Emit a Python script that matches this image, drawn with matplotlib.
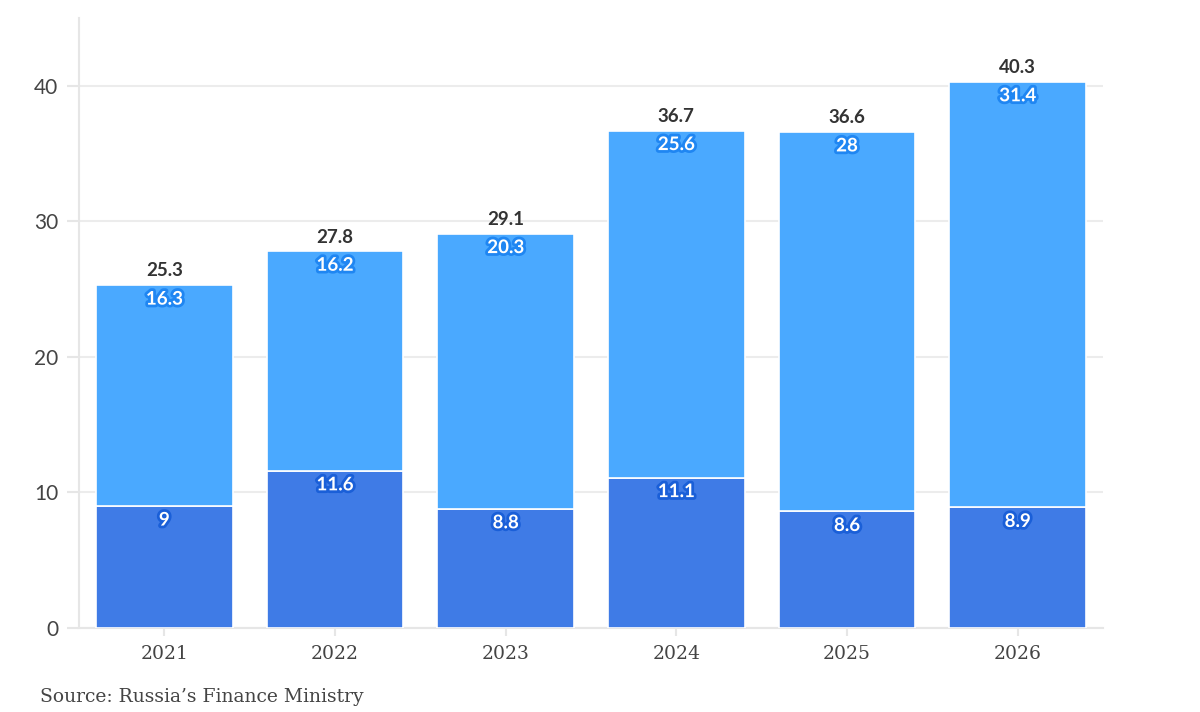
import matplotlib
matplotlib.use("Agg")
import matplotlib.pyplot as plt
import matplotlib.patheffects as pe
import numpy as np

years = ["2021", "2022", "2023", "2024", "2025", "2026"]
bottom_vals = [9, 11.6, 8.8, 11.1, 8.6, 8.9]
top_vals = [16.3, 16.2, 20.3, 25.6, 28, 31.4]
totals = [25.3, 27.8, 29.1, 36.7, 36.6, 40.3]

dark_blue = "#3f7be6"
light_blue = "#4aa9ff"

fig = plt.figure(figsize=(12, 7.12), dpi=100)
ax = fig.add_axes([79 / 1200, 84 / 712, 1024 / 1200, 610 / 712])

x = np.arange(len(years))
ax.bar(x, bottom_vals, width=0.8, color=dark_blue, edgecolor="white", linewidth=1.2, zorder=3)
ax.bar(x, top_vals, width=0.8, bottom=bottom_vals, color=light_blue, edgecolor="white",
       linewidth=1.2, zorder=3)

# white labels with a blue glow inside the bars
outline = [pe.withStroke(linewidth=4, foreground="#1a5fd8")]
outline_top = [pe.withStroke(linewidth=4, foreground="#1f86f2")]
for i in range(len(years)):
    ax.annotate(f"{bottom_vals[i]:g}", (x[i], bottom_vals[i]), xytext=(0, -4),
                textcoords="offset points", ha="center", va="top", color="white",
                fontsize=13.5, fontweight="bold", family="Lato", path_effects=outline, zorder=5)
    ax.annotate(f"{top_vals[i]:g}", (x[i], totals[i]), xytext=(0, -4),
                textcoords="offset points", ha="center", va="top", color="white",
                fontsize=13.5, fontweight="bold", family="Lato", path_effects=outline_top, zorder=5)
    ax.annotate(f"{totals[i]:g}", (x[i], totals[i]), xytext=(0, 4),
                textcoords="offset points", ha="center", va="bottom", color="#333333",
                fontsize=13.5, fontweight="bold", family="Lato", zorder=5)

ax.set_xlim(-0.5, len(years) - 0.5)
ax.set_ylim(0, 45)
ax.set_yticks([0, 10, 20, 30, 40])
ax.set_xticks(x)
ax.set_xticklabels(years, family="DejaVu Serif", fontsize=13.5, color="#444444")
for lab in ax.get_yticklabels():
    lab.set_family("Lato")
    lab.set_fontsize(15)
    lab.set_color("#444444")

ax.grid(axis="y", color="#ececec", linewidth=1.5, zorder=0)
for s in ["top", "right"]:
    ax.spines[s].set_visible(False)
for s in ["left", "bottom"]:
    ax.spines[s].set_color("#e6e6e6")
    ax.spines[s].set_linewidth(1.5)
ax.tick_params(axis="y", length=9, width=1.5, color="#e6e6e6", pad=6)
ax.tick_params(axis="x", length=6, width=1.5, color="#e6e6e6", pad=6)

fig.text(40 / 1200, 1 - 697 / 712, "Source: Russia\u2019s Finance Ministry", family="DejaVu Serif",
         fontsize=13.5, color="#444444", va="center", ha="left")

fig.savefig("out.png", dpi=100)
